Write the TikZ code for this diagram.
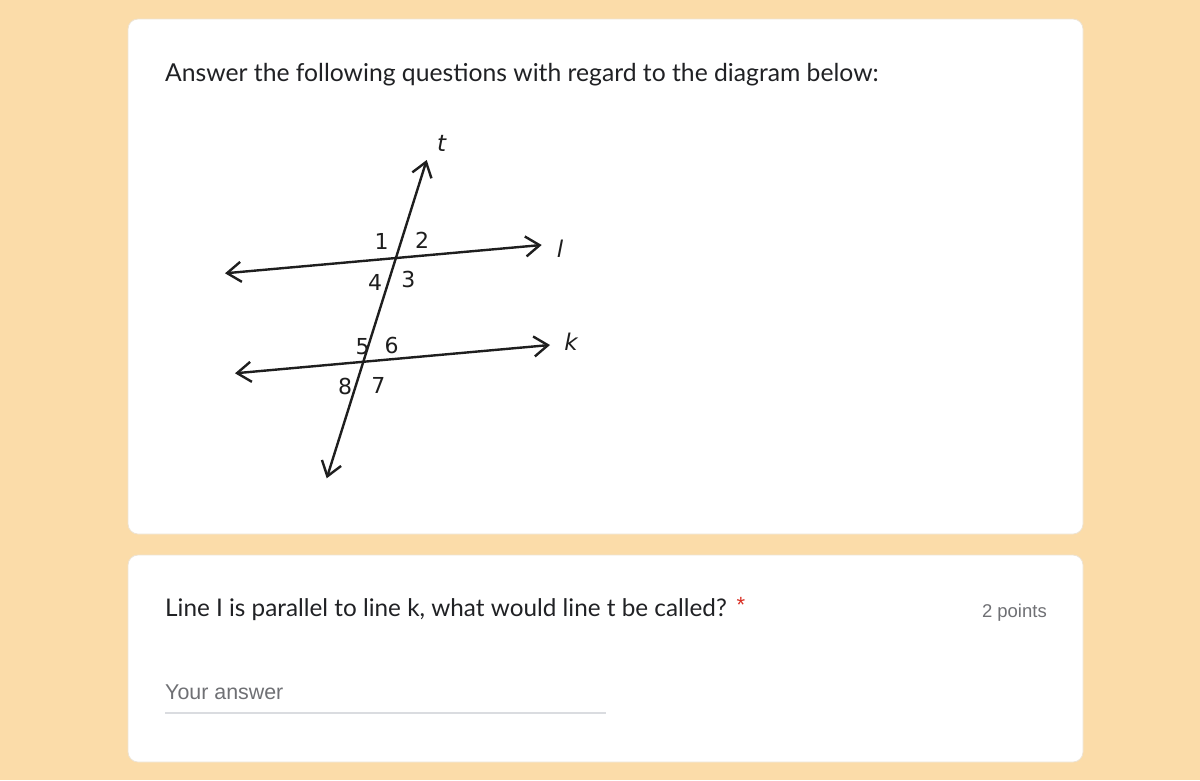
\documentclass[tikz,border=0pt]{standalone}
\usepackage{fontspec}
\setmainfont{Lato}
\newfontfamily\diagfont{DejaVu Sans}
\newfontfamily\uifont{Liberation Sans}
\usetikzlibrary{arrows.meta}
\definecolor{peach}{HTML}{FBDCA9}
\definecolor{cardedge}{HTML}{EDE3D3}
\definecolor{ink}{HTML}{202124}
\definecolor{greytext}{HTML}{6F7074}
\definecolor{uline}{HTML}{DADCE0}
\definecolor{star}{HTML}{D93025}
\definecolor{geo}{HTML}{1E1E1E}
\tikzset{
  card/.style={fill=white, draw=cardedge, line width=0.8pt, rounded corners=10pt},
  geoline/.style={draw=geo, line width=2.4pt, {Straight Barb[length=14pt,width=20pt,line width=2.4pt]}-{Straight Barb[length=14pt,width=20pt,line width=2.4pt]}},
  numlab/.style={font=\diagfont\fontsize{22}{25}\selectfont, text=geo, inner sep=0pt},
  linelab/.style={font=\diagfont\itshape\fontsize{23}{26}\selectfont, text=geo, inner sep=0pt},
  qtext/.style={font=\fontsize{24.7}{28}\selectfont, text=ink, anchor=base west, inner sep=0pt},
  grey/.style={font=\uifont\fontsize{19}{22}\selectfont, text=greytext, anchor=base west, inner sep=0pt}
}
\begin{document}
\begin{tikzpicture}[x=1pt,y=-1pt]
\useasboundingbox (0,0) rectangle (1200,780);
\fill[peach] (0,0) rectangle (1200,780);
\draw[card] (128,19) rectangle (1083,534);
\draw[card] (128,555) rectangle (1083,762);

\node[qtext] (title) at (165,81.5) {Answer the following questions with regard to the diagram below:};

% diagram
\coordinate (tT) at (426.7,160);
\coordinate (tB) at (326.7,478.3);
\coordinate (lL) at (225,273.3);
\coordinate (lR) at (541.7,245);
\coordinate (kL) at (235,373.3);
\coordinate (kR) at (550,345);
\draw[geoline] (tB) -- (tT);
\draw[geoline] (lL) -- (lR);
\draw[geoline] (kL) -- (kR);

\node[linelab] (tl) at (441.7,143.3) {t};
\node[linelab] (ll) at (560,248.3) {l};
\node[linelab] (kl) at (571,341.7) {k};

\node[numlab] (n1) at (381.7,241.7) {1};
\node[numlab] (n2) at (422,240.7) {2};
\node[numlab] (n4) at (375,282.7) {4};
\node[numlab] (n3) at (408.3,279.3) {3};
\node[numlab] (n5) at (362.5,346.7) {5};
\node[numlab] (n6) at (391.7,345) {6};
\node[numlab] (n8) at (345,386.7) {8};
\node[numlab] (n7) at (378.3,385) {7};

% question card
\node[qtext, font=\fontsize{24.3}{28}\selectfont] (q) at (165,616.7) {Line I is parallel to line k, what would line t be called?};
\node[text=star, font=\uifont\fontsize{22}{24}\selectfont, inner sep=0pt] (st) at (741,605) {*};
\node[grey, font=\uifont\fontsize{18.5}{22}\selectfont, anchor=base east] (pts) at (1047,617) {2 points};
\node[grey, font=\uifont\fontsize{21.4}{24}\selectfont] (ya) at (165,699) {Your answer};
\coordinate (u1) at (165,713);
\coordinate (u2) at (606,713);
\draw[uline, line width=1.2pt] (u1) -- (u2);
\end{tikzpicture}
\end{document}
